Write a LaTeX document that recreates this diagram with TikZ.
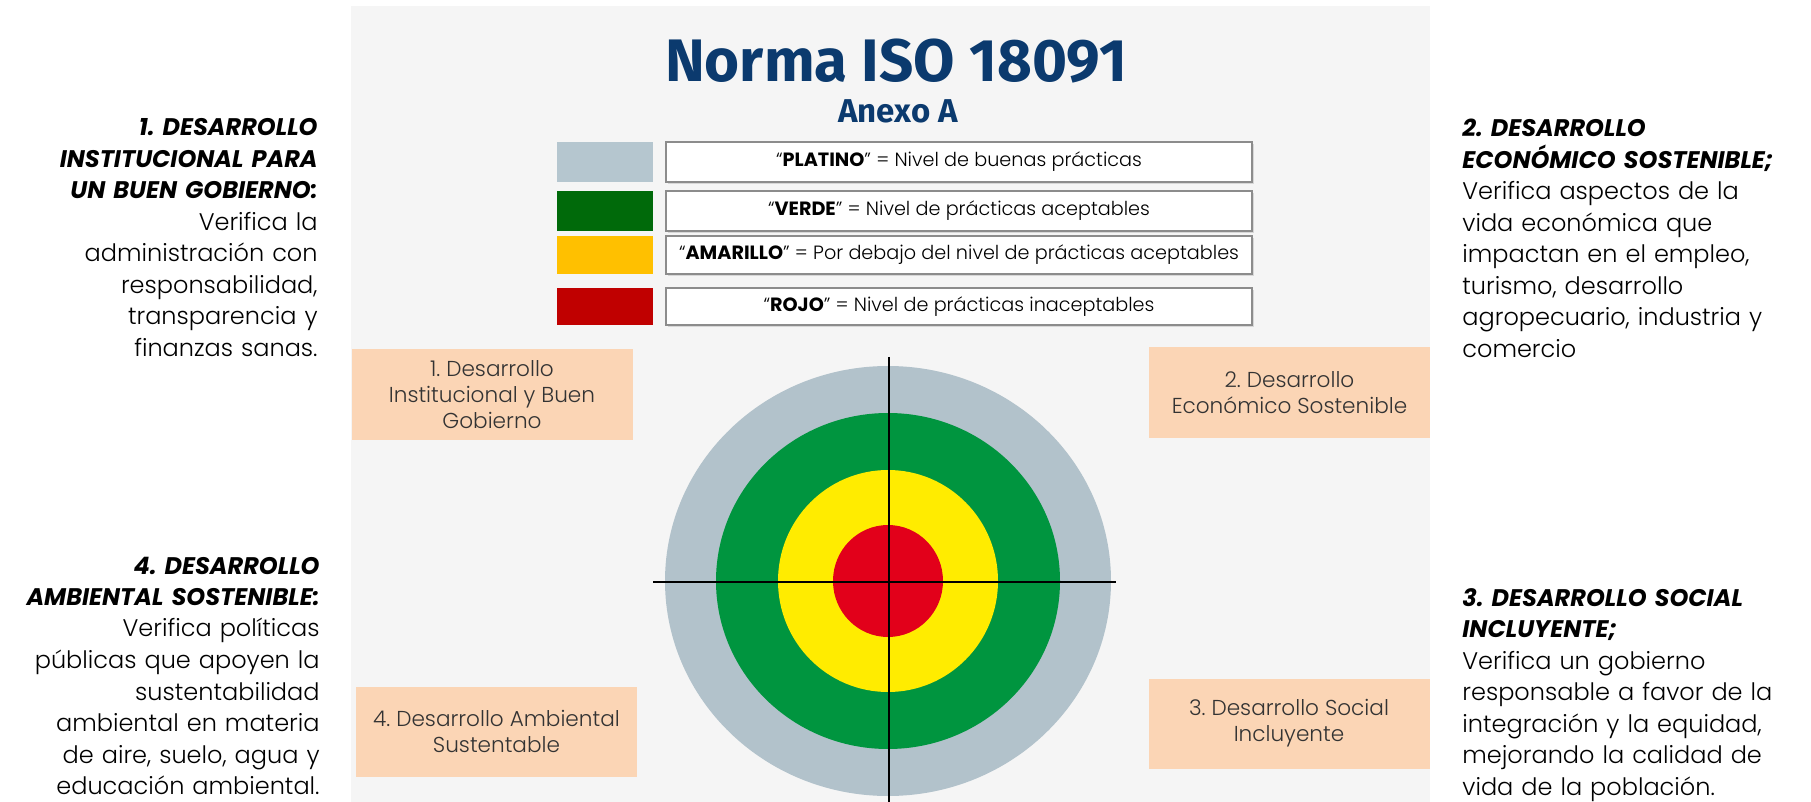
\documentclass[tikz,border=0pt]{standalone}
\usepackage{fontspec}
\setmainfont{Poppins}[UprightFont={* Light}, ItalicFont={* Light Italic},
  BoldFont={* Bold}, BoldItalicFont={* Bold Italic}]
\newfontfamily\titlefont{Fira Sans}
\usetikzlibrary{positioning}
\usetikzlibrary{shadows}
\frenchspacing

\definecolor{panel}{HTML}{F5F5F5}
\definecolor{navy}{HTML}{0B3A6E}
\definecolor{peach}{HTML}{FBD5B5}
\definecolor{platino}{HTML}{B5C6CF}
\definecolor{verde}{HTML}{006A0A}
\definecolor{amarillo}{HTML}{FFC000}
\definecolor{rojo}{HTML}{C00000}
\definecolor{anillogris}{HTML}{B2C2CB}
\definecolor{anilloverde}{HTML}{00953F}
\definecolor{anilloamarillo}{HTML}{FFEC00}
\definecolor{anillorojo}{HTML}{E2001A}

\tikzset{
  coltext/.style={font=\fontsize{12}{15.75}\selectfont, text width=190pt, inner sep=0pt},
  area/.style={fill=peach, minimum width=140.5pt, minimum height=45pt, align=center,
    inner sep=0pt, text=black!80, font=\fontsize{10.8}{13}\selectfont},
  swatch/.style={minimum width=48pt, inner sep=0pt},
  levelbox/.style={draw=black!45, line width=0.7pt, fill=white, minimum width=293pt,
    inner sep=0pt, font=\fontsize{9.6}{11}\selectfont,
    drop shadow={shadow xshift=0.8pt, shadow yshift=-0.8pt, opacity=0.25}},
  cruz/.style={line width=1.25pt, black},
}

\begin{document}
\begin{tikzpicture}[x=0.5pt, y=-0.5pt]

  \useasboundingbox (0,0) rectangle (1811,802);
  \fill[white] (0,0) rectangle (1811,802);
  \fill[panel] (351,6) rectangle (1430,802);

%%%%%%%%%%%% Titulo
  \node[font=\titlefont\bfseries\fontsize{30}{30}\selectfont, text=navy, anchor=base]
    (titulo) at (896,82) {Norma ISO 18091};
  \node[font=\titlefont\bfseries\fontsize{16.5}{16.5}\selectfont, text=navy, anchor=base]
    (anexo) at (898,123) {Anexo A};

%%%%%%%%%%%% Niveles
  \foreach \nivel/\col/\arriba/\abajo/\clave/\desc in {
    platino/platino/142/182/PLATINO/Nivel de buenas prácticas,
    verde/verde/191/231/VERDE/Nivel de prácticas aceptables,
    amarillo/amarillo/236/274/AMARILLO/Por debajo del nivel de prácticas aceptables,
    rojo/rojo/288/325/ROJO/Nivel de prácticas inaceptables} {
    \pgfmathsetlengthmacro\alto{(\abajo-\arriba)*0.5pt}
    \pgfmathsetmacro\medio{(\abajo+\arriba)/2}
    \node[swatch, fill=\col, minimum height=\alto] (sw-\nivel) at (605,\medio) {};
    \node[levelbox, minimum height=\alto] (lv-\nivel) at (959,\medio)
      {“\textbf{\clave}” = \desc};
  }

%%%%%%%%%%%% Diana
  \coordinate (diana) at (888,581);
  \fill[anillogris] (diana) ellipse [x radius=111.5pt, y radius=107.5pt];
  \fill[anilloverde] (diana) ellipse [x radius=86pt, y radius=84pt];
  \fill[anilloamarillo] (diana) ellipse [x radius=55pt, y radius=55.5pt];
  \fill[anillorojo] (diana) ellipse [x radius=27.5pt, y radius=28pt];

  \coordinate (mira-n) at (889,357);
  \coordinate (mira-s) at (889,812);
  \coordinate (mira-w) at (653,582);
  \coordinate (mira-e) at (1116,582);
  \draw[cruz] (mira-n) -- (mira-s);
  \draw[cruz] (mira-w) -- (mira-e);

%%%%%%%%%%%% Ejes
  \node[area] (inst) at (492,394.5) {1. Desarrollo\\ Institucional y Buen\\ Gobierno};
  \node[area] (econ) at (1289.5,392.5) {2. Desarrollo\\ Económico Sostenible};
  \node[area] (social) at (1289,723.5) {3. Desarrollo Social\\ Incluyente};
  \node[area] (amb) at (496.5,731.5) {4. Desarrollo Ambiental\\ Sustentable};

%%%%%%%%%%%% Descripciones
  \node[coltext, anchor=base east, align=right] (txt-inst) at (318,136)
    {{\bfseries\itshape 1. DESARROLLO\\ INSTITUCIONAL PARA\\ UN BUEN GOBIERNO:}\\
     Verifica la\\ administración con\\ responsabilidad,\\ transparencia y\\ finanzas sanas.};
  \node[coltext, anchor=base east, align=right] (txt-amb) at (320,574)
    {{\bfseries\itshape 4. DESARROLLO\\ AMBIENTAL SOSTENIBLE:}\\
     Verifica políticas\\ públicas que apoyen la\\ sustentabilidad\\ ambiental en materia\\
     de aire, suelo, agua y\\ educación ambiental.};
  \node[coltext, anchor=base west, align=left] (txt-econ) at (1462,137)
    {{\bfseries\itshape 2. DESARROLLO\\ ECONÓMICO SOSTENIBLE;}\\
     Verifica aspectos de la\\ vida económica que\\ impactan en el empleo,\\
     turismo, desarrollo\\ agropecuario, industria y\\ comercio};
  \node[coltext, anchor=base west, align=left] (txt-social) at (1462,606)
    {{\bfseries\itshape 3. DESARROLLO SOCIAL\\ INCLUYENTE;}\\
     Verifica un gobierno\\ responsable a favor de la\\ integración y la equidad,\\
     mejorando la calidad de\\ vida de la población.};

\end{tikzpicture}
\end{document}
